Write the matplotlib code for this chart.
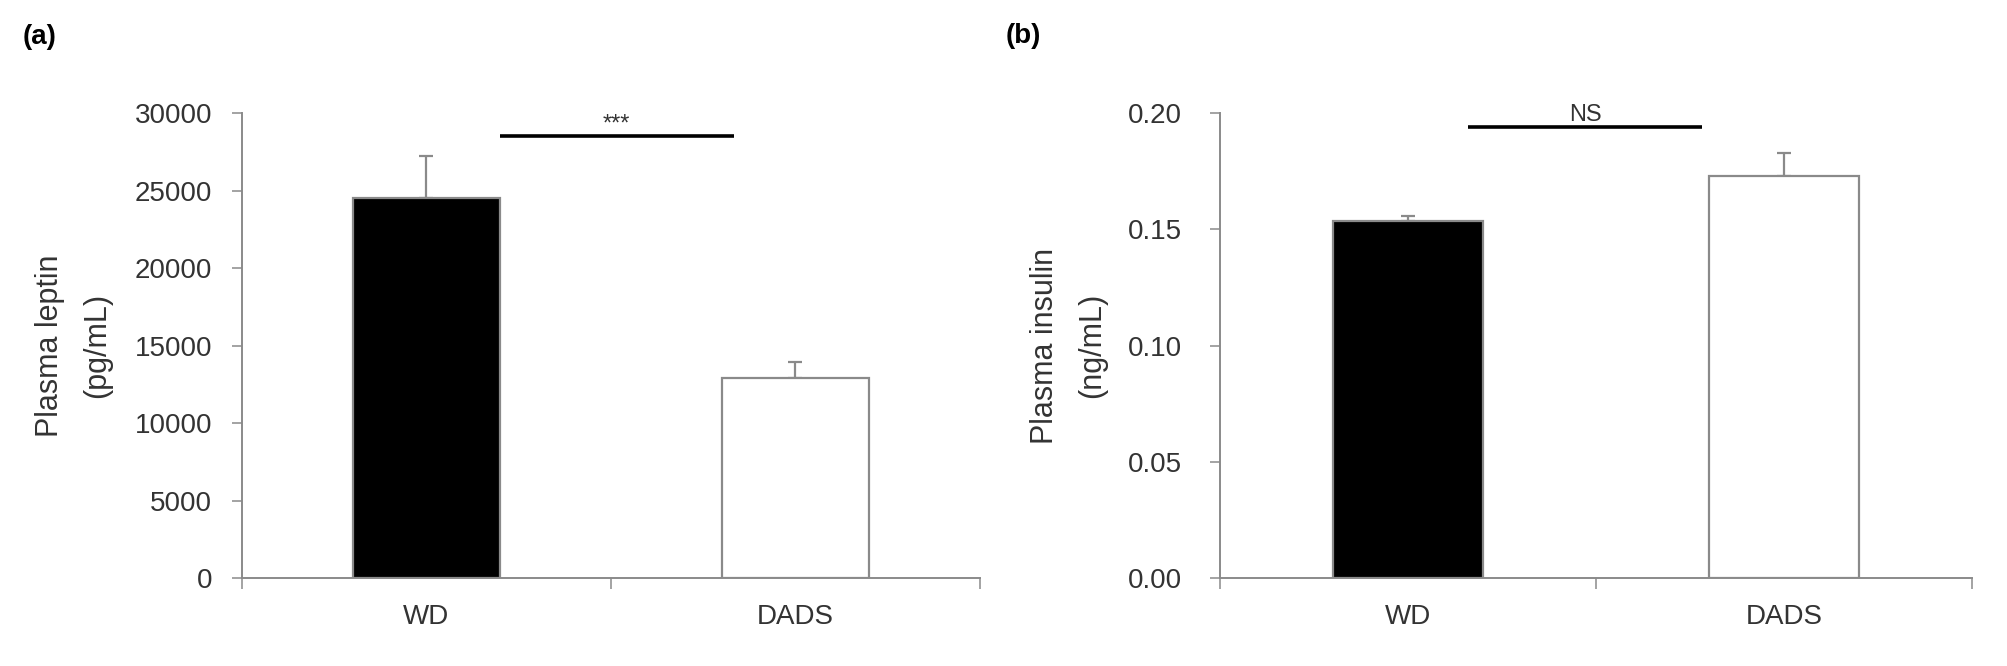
import matplotlib
matplotlib.use("Agg")
import matplotlib.pyplot as plt
import numpy as np

plt.rcParams['font.family'] = ['Liberation Sans', 'DejaVu Sans']

# data
groups = ["WD", "DADS"]
leptin = [24500, 12900]
leptin_err = [2730, 1035]
insulin = [0.1535, 0.1730]
insulin_err = [0.0020, 0.0100]
leptin_ticks = [0, 5000, 10000, 15000, 20000, 25000, 30000]
insulin_ticks = [0.00, 0.05, 0.10, 0.15, 0.20]
bar_colors = ["black", "white"]

grey = "#8a8a8a"
text_c = "#333333"


def draw_panel(ax, means, errs, yticks, fmt, ylabel, label_x, ytick_pad,
               sig_text, sig_y, sig_x0, sig_x1, sig_size):
    x = np.arange(len(groups))
    ax.bar(x, means, width=0.4, color=bar_colors, edgecolor=grey,
           linewidth=1.6, zorder=2)
    ax.errorbar(x, means, yerr=[np.zeros(len(errs)), errs], fmt="none",
                ecolor=grey, elinewidth=1.6, capsize=5, capthick=1.6, zorder=1)

    ax.set_xlim(-0.5, 1.5)
    ax.set_ylim(0, yticks[-1])
    ax.set_yticks(yticks)
    ax.set_yticklabels([fmt.format(t) for t in yticks])

    # ticks at group boundaries, labels at group centres
    ax.set_xticks([-0.5, 0.5, 1.5])
    ax.set_xticklabels([])
    ax.set_xticks(x, minor=True)
    ax.set_xticklabels(groups, minor=True)
    ax.tick_params(axis="x", which="minor", length=0, pad=19,
                   labelsize=20, labelcolor=text_c)
    ax.tick_params(axis="x", which="major", length=8, width=1.1, color=grey)
    ax.tick_params(axis="y", length=7.5, width=1.1, color=grey, pad=ytick_pad,
                   labelsize=20, labelcolor=text_c)

    for s in ["top", "right"]:
        ax.spines[s].set_visible(False)
    for s in ["left", "bottom"]:
        ax.spines[s].set_color(grey)
        ax.spines[s].set_linewidth(1.4)

    ax.set_ylabel(ylabel, fontsize=22, color=text_c, linespacing=1.75)
    ax.yaxis.label.set_verticalalignment("center")
    ax.yaxis.set_label_coords(label_x, 0.5)

    # significance bar
    ax.plot([sig_x0, sig_x1], [sig_y, sig_y], color="black", lw=2.6,
            clip_on=False, solid_capstyle="butt")
    ax.annotate(sig_text, xy=((sig_x0 + sig_x1) / 2, sig_y), xytext=(0, 4),
                textcoords="offset points", ha="center", va="baseline",
                fontsize=sig_size, color=text_c, annotation_clip=False)


fig = plt.figure(figsize=(20.08, 6.66), dpi=100)
ax_a = fig.add_axes([0.1205, 0.1321, 0.3675, 0.6982])
ax_b = fig.add_axes([0.6076, 0.1321, 0.3745, 0.6982])

draw_panel(ax_a, leptin, leptin_err, leptin_ticks, "{:.0f}",
           "Plasma leptin\n(pg/mL)", -0.228, 14,
           "***", 28520, 0.199, 0.833, 17)
draw_panel(ax_b, insulin, insulin_err, insulin_ticks, "{:.2f}",
           "Plasma insulin\n(ng/mL)", -0.201, 20,
           "NS", 0.194, 0.160, 0.782, 17)

fig.text(23 / 2008, 1 - 37 / 666, "(a)", fontsize=20, fontweight="bold",
         va="center", ha="left")
fig.text(1006 / 2008, 1 - 36 / 666, "(b)", fontsize=20, fontweight="bold",
         va="center", ha="left")

fig.savefig("out.png", dpi=100)
